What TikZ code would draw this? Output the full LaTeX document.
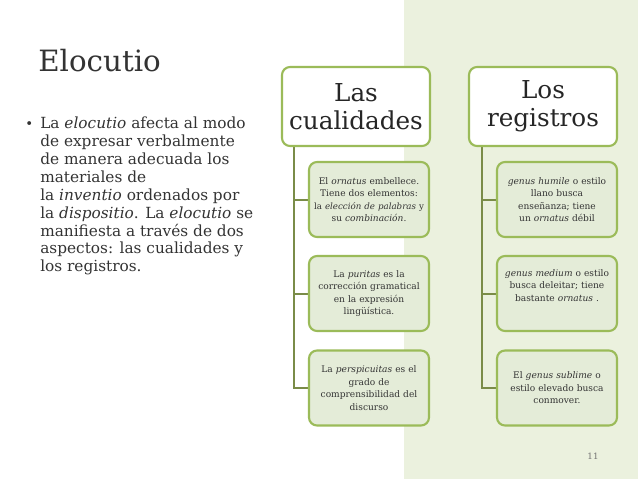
\documentclass[tikz,border=0pt]{standalone}
\usepackage{fontspec}
\setmainfont{DejaVu Serif}
\definecolor{bgreen}{RGB}{235,241,222}
\definecolor{lgreen}{RGB}{155,187,89}
\definecolor{cfill}{RGB}{228,236,216}
\definecolor{tiecol}{RGB}{122,140,72}
\tikzset{head box/.style={draw=lgreen, line width=1.6pt, fill=white, rounded corners=6pt,
    minimum width=148*0.75pt, minimum height=79*0.75pt, align=center, font=\fontsize{18.5}{21}\selectfont, text=black!85},
  leaf box/.style={draw=lgreen, line width=1.6pt, fill=cfill, rounded corners=6pt,
    minimum width=120*0.75pt, minimum height=75*0.75pt, text width=118*0.75pt, inner xsep=0.5pt, align=center,
    font=\fontsize{6.8}{9.4}\selectfont, text=black!80},
  tie/.style={draw=tiecol, line width=1.6pt}}
\begin{document}
\begin{tikzpicture}[x=0.75pt,y=-0.75pt]
\useasboundingbox (0,0) rectangle (638,479);
\fill[bgreen] (404,0) rectangle (638,479);
%Title and text
\node[anchor=base west, font=\fontsize{22}{24}\selectfont, text=black!80, inner sep=0pt] (title) at (38,71) {Elocutio};
\node[anchor=north west, align=left, font=\fontsize{11.5}{13.4}\selectfont, text=black!80, inner sep=0pt] (body) at (40,117)
  {La \textit{elocutio} afecta al modo\\ de expresar verbalmente\\ de manera adecuada los\\ materiales de\\ la \textit{inventio} ordenados por\\ la \textit{dispositio}. La \textit{elocutio} se\\ manifiesta a través de dos\\ aspectos: las cualidades y\\ los registros.};
\node[anchor=north west, inner sep=0pt, font=\fontsize{10}{13}\selectfont, text=black!80] (dot) at (25,121) {•};
%Left column
\coordinate (lt) at (294,146);
\coordinate (lb) at (294,388);
\draw[tie] (lt) -- (lb) -- (309,388);
\draw[tie] (294,294) -- (309,294);
\draw[tie] (294,200) -- (309,200);
\node[head box] (cual) at (356,106.5) {Las\\cualidades};
\node[leaf box] (ornatus) at (369,199.5) {El \textit{ornatus} embellece.\\ Tiene dos elementos:\\ {\fontsize{6.5}{9.4}\selectfont la \textit{elección de palabras} y}\\ su \textit{combinación}.};
\node[leaf box] (puritas) at (369,293.5) {La \textit{puritas} es la\\ corrección gramatical\\ en la expresión\\ lingüística.};
\node[leaf box] (persp) at (369,388) {La \textit{perspicuitas} es el\\ grado de\\ comprensibilidad del\\ discurso};
%Right column
\coordinate (rt) at (482,146);
\coordinate (rb) at (482,388);
\draw[tie] (rt) -- (rb) -- (497,388);
\draw[tie] (482,294) -- (497,294);
\draw[tie] (482,200) -- (497,200);
\node[head box] (regis) at (543,106.5) {Los\\registros};
\node[leaf box] (humile) at (557,199.5) {\textit{genus humile} o estilo\\ llano busca\\ enseñanza; tiene\\ un \textit{ornatus} débil};
\node[leaf box] (medium) at (557,293.5) {\textit{genus medium} o estilo\\ busca deleitar; tiene\\ bastante \textit{ornatus} .\\ \strut};
\node[leaf box] (sublime) at (557,388) {El \textit{genus sublime} o\\ estilo elevado busca\\ conmover.};
\node[font=\fontsize{6.5}{7}\selectfont, text=black!55] (pnum) at (593,456) {11};
\end{tikzpicture}
\end{document}
